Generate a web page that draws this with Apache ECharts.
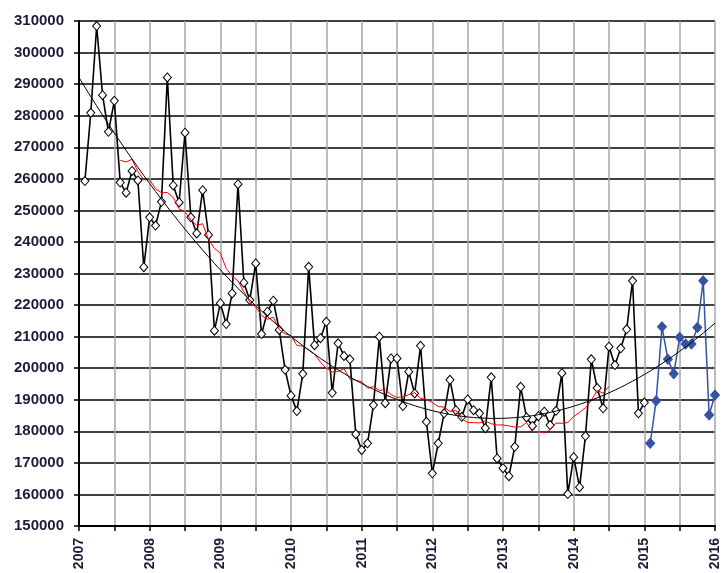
<!DOCTYPE html>
<html>
<head>
<meta charset="utf-8">
<script src="https://cdn.jsdelivr.net/npm/echarts@6/dist/echarts.min.js"></script>
<style>
  html, body { margin: 0; padding: 0; background: #ffffff; }
  #chart { width: 722px; height: 573px; }
</style>
</head>
<body>
<div id="chart"></div>
<script>
// Monthly values, January 2007 to December 2014 (one value per month)
const firstYear = 2007;
const monthlyValues = [
  259300, 280900, 308400, 286500, 274900, 284700, 258800, 255600, 262500, 259500, 232000, 247800,
  245200, 252700, 292100, 257900, 252500, 274600, 247800, 242700, 256400, 242200, 211900, 220600,
  214000, 223700, 258300, 227100, 221600, 233200, 210800, 217900, 221400, 212100, 199500, 191300,
  186400, 198200, 232100, 207300, 209500, 214700, 192200, 207900, 203900, 202800, 179100, 174100,
  176200, 188300, 210000, 188900, 203100, 203100, 188000, 198900, 192000, 207100, 183000, 166700,
  176200, 185700, 196300, 186700, 184600, 190100, 186700, 185700, 181000, 197100, 171400, 168300,
  165800, 175100, 194100, 184400, 181700, 184800, 186200, 182000, 186500, 198400, 160100, 171800,
  162300, 178500, 202800, 193700, 187300, 206800, 201000, 206300, 212300, 227700, 185700, 189100
];

// Monthly values for 2015
const latestYear = 2015;
const latestValues = [
  176200, 189700, 213100, 202800, 198200, 209800, 207700, 207700, 212900, 227700, 185200, 191500
];

// Axis ranges and tick steps
const yRange = [150000, 310000];
const yStep = 10000;
const xRange = [2007, 2016];
const xStep = 0.5;

// Each monthly value sits at the end of its month on a decimal-year axis
function toPairs(year, values) {
  return values.map((v, i) => [year + (i + 1) / 12, v]);
}
const mainPairs = toPairs(firstYear, monthlyValues);
const latestPairs = toPairs(latestYear, latestValues);

// Centred 13-month moving average
const maHalf = 6;
const movingAverage = [];
for (let i = maHalf; i < mainPairs.length - maHalf; i++) {
  let s = 0;
  for (let k = i - maHalf; k <= i + maHalf; k++) s += monthlyValues[k];
  movingAverage.push([mainPairs[i][0], s / (2 * maHalf + 1)]);
}

// Least-squares polynomial trend of the monthly series, extended to the axis end
const trendOrder = 2;
function polyFit(pairs, x0, order) {
  const n = order + 1;
  const A = [];
  for (let r = 0; r < n; r++) A.push(new Array(n + 1).fill(0));
  pairs.forEach(([x, y]) => {
    const t = x - x0;
    const pw = [1];
    for (let k = 1; k <= 2 * order; k++) pw.push(pw[k - 1] * t);
    for (let r = 0; r < n; r++) {
      for (let c = 0; c < n; c++) A[r][c] += pw[r + c];
      A[r][n] += pw[r] * y;
    }
  });
  for (let c = 0; c < n; c++) {
    for (let r = c + 1; r < n; r++) {
      const f = A[r][c] / A[c][c];
      for (let k = c; k <= n; k++) A[r][k] -= f * A[c][k];
    }
  }
  const coef = new Array(n).fill(0);
  for (let r = n - 1; r >= 0; r--) {
    let s = A[r][n];
    for (let k = r + 1; k < n; k++) s -= A[r][k] * coef[k];
    coef[r] = s / A[r][r];
  }
  return t => coef.reduce((acc, c, k) => acc + c * Math.pow(t, k), 0);
}
const trendFn = polyFit(mainPairs, firstYear, trendOrder);
const trendLine = [];
for (let m = 0; m <= (xRange[1] - xRange[0]) * 12; m++) {
  const x = xRange[0] + m / 12;
  trendLine.push([x, trendFn(x - firstYear)]);
}

const labelText = {
  fontFamily: '"Liberation Sans", Arial, sans-serif',
  fontWeight: 'bold',
  fontSize: 15,
  color: '#1c1c3a'
};

const chart = echarts.init(document.getElementById('chart'), null, { renderer: 'canvas' });
chart.setOption({
  animation: false,
  backgroundColor: '#ffffff',
  grid: { left: 79, right: 3, top: 21, bottom: 47, containLabel: false },
  xAxis: {
    type: 'value',
    min: xRange[0],
    max: xRange[1],
    interval: xStep,
    axisLine: { onZero: false, lineStyle: { color: '#000000', width: 2 } },
    axisTick: { show: true, length: 5, lineStyle: { color: '#000000', width: 1.5 } },
    axisLabel: Object.assign({
      rotate: 90,
      margin: 12,
      showMinLabel: true,
      showMaxLabel: true,
      formatter: v => (Math.abs(v - Math.round(v)) < 1e-6 ? String(Math.round(v)) : '')
    }, labelText, { fontSize: 14 }),
    splitLine: { show: true, lineStyle: { color: '#a6a6a6', width: 1.5 } }
  },
  yAxis: {
    type: 'value',
    min: yRange[0],
    max: yRange[1],
    interval: yStep,
    axisLine: { show: true, lineStyle: { color: '#000000', width: 2 } },
    axisTick: { show: true, length: 5, lineStyle: { color: '#000000', width: 1.5 } },
    axisLabel: Object.assign({ margin: 15, formatter: v => String(v) }, labelText),
    splitLine: { show: true, lineStyle: { color: '#000000', width: 1.5 } }
  },
  series: [
    {
      name: '2007-2014',
      type: 'line',
      data: mainPairs,
      showAllSymbol: true,
      symbol: 'diamond',
      symbolSize: [8, 9],
      itemStyle: { color: '#ffffff', borderColor: '#000000', borderWidth: 1 },
      lineStyle: { color: '#000000', width: 1.6 },
      z: 3
    },
    {
      name: '2015',
      type: 'line',
      data: latestPairs,
      showAllSymbol: true,
      symbol: 'diamond',
      symbolSize: [9, 10],
      itemStyle: { color: '#3553a4', borderColor: '#3553a4', borderWidth: 1 },
      lineStyle: { color: '#3553a4', width: 1.5 },
      z: 3
    },
    {
      name: 'moving average',
      type: 'line',
      data: movingAverage,
      showSymbol: false,
      lineStyle: { color: '#ff0000', width: 1 },
      z: 4
    },
    {
      name: 'trend',
      type: 'line',
      data: trendLine,
      showSymbol: false,
      lineStyle: { color: '#000000', width: 1 },
      z: 5
    }
  ]
});
</script>
</body>
</html>
